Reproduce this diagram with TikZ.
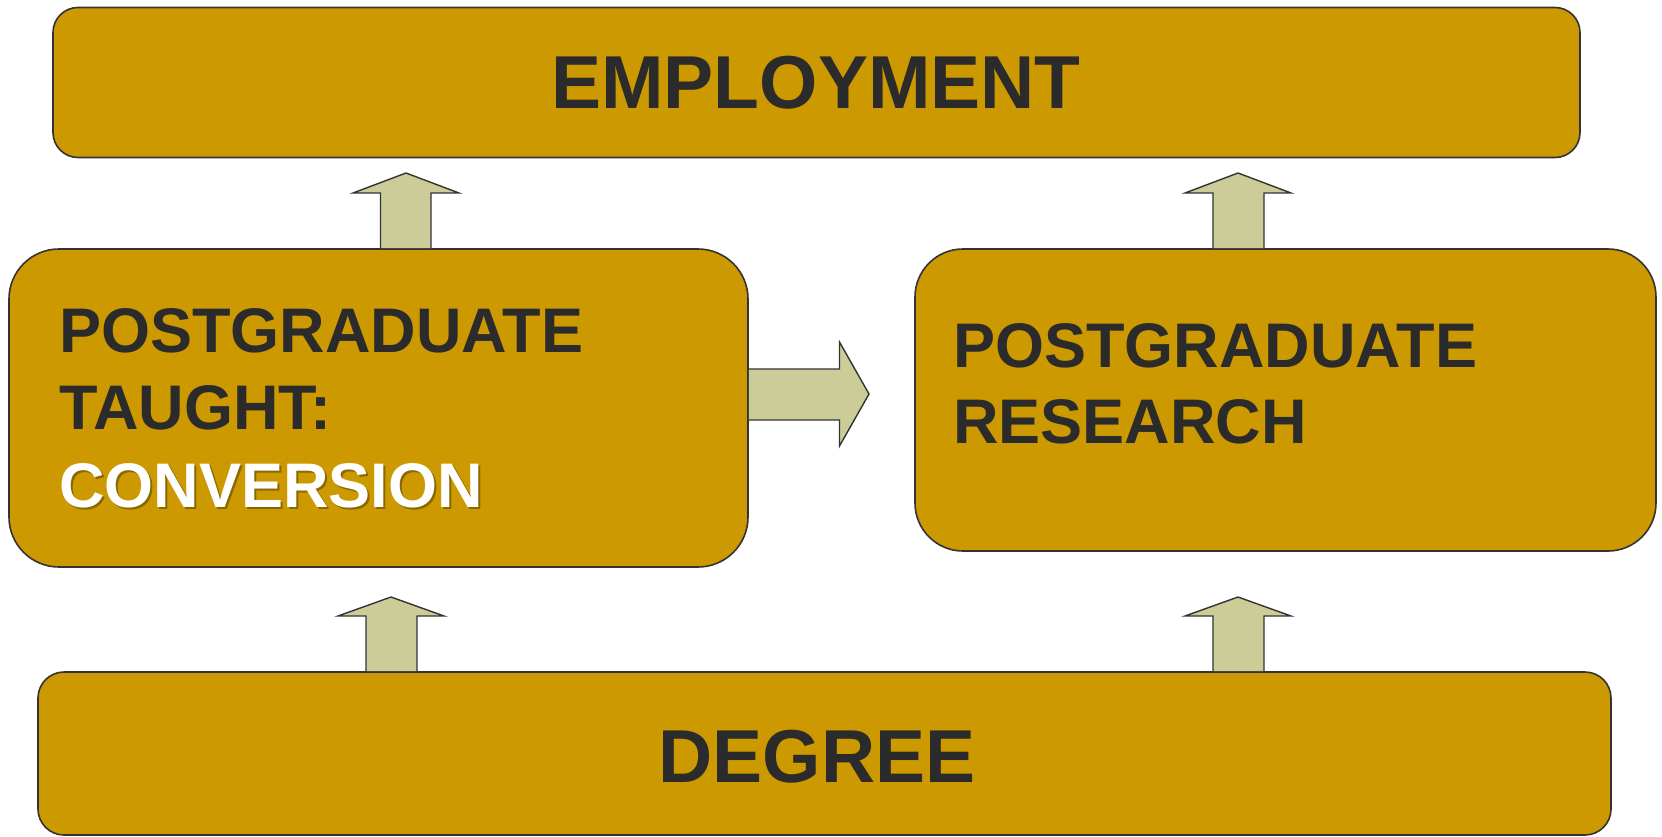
\documentclass[tikz,border=0pt]{standalone}
\usepackage{fontspec}
\setmainfont{Liberation Sans}
\definecolor{boxgold}{HTML}{CC9900}
\definecolor{arrowfill}{HTML}{CCCC99}
\definecolor{edge}{HTML}{333333}
\definecolor{txt}{HTML}{2B2B2B}
\definecolor{shadowgold}{HTML}{8A6800}
\begin{document}
\begin{tikzpicture}[x=1pt,y=-1pt,
  box/.style={draw=edge,line width=1.6pt,fill=boxgold,rectangle,inner sep=0pt},
  blockarrow/.style={draw=edge,line width=1.4pt,fill=arrowfill,line join=miter},
  bigtext/.style={text=txt,font=\fontsize{75}{75}\selectfont\bfseries,inner sep=0pt},
  midtext/.style={text=txt,font=\fontsize{63}{63}\selectfont\bfseries,inner sep=0pt,anchor=base west}]
\useasboundingbox (0,0) rectangle (1662,836);
% boxes
\node[box,rounded corners=25pt,minimum width=1527pt,minimum height=150pt] (emp) at (816.5,82.5) {};
\node[box,rounded corners=50pt,minimum width=739pt,minimum height=318pt] (pgt) at (378.5,408) {};
\node[box,rounded corners=48pt,minimum width=741pt,minimum height=302pt] (pgr) at (1285.5,400) {};
\node[box,rounded corners=26pt,minimum width=1573pt,minimum height=163pt] (deg) at (824.5,753.5) {};
% texts
\node[bigtext] (empt) at (816,83) {EMPLOYMENT};
\node[bigtext] (degt) at (817,757) {DEGREE};
\node[midtext] (pgt1) at (59,352) {POSTGRADUATE};
\node[midtext] (pgt2) at (59,429) {TAUGHT:};
\node[midtext,text=shadowgold] (pgt3s) at (61,509) {CONVERSION};
\node[midtext,text=white] (pgt3) at (59,507) {CONVERSION};
\node[midtext] (pgr1) at (953,367) {POSTGRADUATE};
\node[midtext] (pgr2) at (953,443) {RESEARCH};
% block arrows: PGT -> EMPLOYMENT
\draw[blockarrow] (pgt.north -| 380.5,0) -- (380.5,193) -- (353,193) -- (406,173) -- (459,193) -- (431,193) -- (pgt.north -| 431,0);
% PGR -> EMPLOYMENT
\draw[blockarrow] (pgr.north -| 1213,0) -- (1213,193) -- (1185,193) -- (1238,173) -- (1291,193) -- (1264,193) -- (pgr.north -| 1264,0);
% DEGREE -> PGT
\draw[blockarrow] (deg.north -| 366,0) -- (366,616) -- (338,616) -- (391,597) -- (444,616) -- (417,616) -- (deg.north -| 417,0);
% DEGREE -> PGR
\draw[blockarrow] (deg.north -| 1213,0) -- (1213,616) -- (1185,616) -- (1238,597) -- (1291,616) -- (1264,616) -- (deg.north -| 1264,0);
% PGT -> PGR
\draw[blockarrow] (pgt.east |- 0,369) -- (839.5,369) -- (839.5,342) -- (869,394) -- (839.5,446) -- (839.5,420) -- (pgt.east |- 0,420);
\end{tikzpicture}
\end{document}
